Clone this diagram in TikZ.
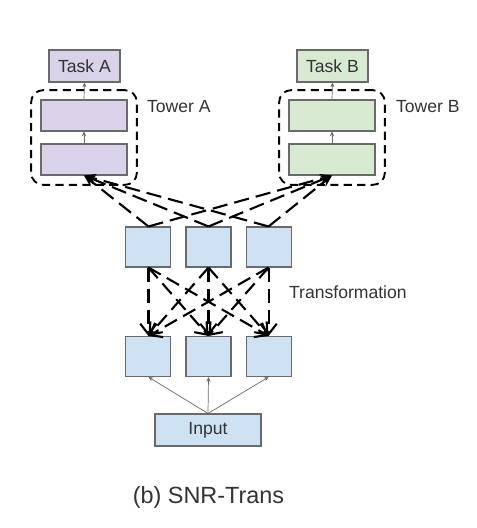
\documentclass[tikz,border=0pt]{standalone}
\usepackage{fontspec}
\setmainfont{Liberation Sans}
\usetikzlibrary{arrows.meta, positioning, fit, calc}
\definecolor{lavfill}{HTML}{D9D2E9}
\definecolor{grnfill}{HTML}{D9EAD3}
\definecolor{bluefill}{HTML}{CFE2F3}
\definecolor{edgegray}{HTML}{6A6A6A}
\definecolor{txtgray}{HTML}{333333}

\begin{document}
\begin{tikzpicture}[>=Stealth,
    % ô chữ nhật cơ bản
    box/.style={draw=edgegray, line width=0.9pt, inner sep=0pt, text=txtgray, font=\fontsize{15}{18}\selectfont},
    taskbox/.style={box, minimum width=2.13cm, minimum height=0.96cm},
    layerbox/.style={box, minimum width=2.58cm, minimum height=0.93cm},
    cell/.style={box, fill=bluefill, minimum width=1.35cm, minimum height=1.2cm},
    tower/.style={draw=black, line width=1.6pt, dash pattern=on 7pt off 4.5pt, rounded corners=0.36cm, inner sep=0.28cm},
    thinarrow/.style={->, >={Stealth[length=4pt, width=3.5pt]}, draw=edgegray, line width=0.6pt},
    share/.style={line width=1.8pt, dash pattern=on 13pt off 6pt, -{Stealth[length=10pt, width=8pt]}},
    trans/.style={line width=1.8pt, dash pattern=on 12pt off 6pt, -{Straight Barb[length=9pt, width=14pt]}},
    lbl/.style={text=txtgray, font=\fontsize{15}{18}\selectfont}]

    \useasboundingbox (0,0) rectangle (14.28,-15.84);

    % Tower A
    \node[taskbox, fill=lavfill] (taskA) at (2.535,-1.98) {Task A};
    \node[layerbox, fill=lavfill] (twA1) at (2.52,-3.465) {};
    \node[layerbox, fill=lavfill] (twA2) at (2.52,-4.785) {};
    \node[tower, fit=(twA1) (twA2)] (fitA) {};
    \node[lbl, anchor=west] (labA) at (4.29,-3.21) {Tower A};

    % Tower B
    \node[taskbox, fill=grnfill] (taskB) at (9.975,-1.98) {Task B};
    \node[layerbox, fill=grnfill] (twB1) at (9.96,-3.465) {};
    \node[layerbox, fill=grnfill] (twB2) at (9.96,-4.785) {};
    \node[tower, fit=(twB1) (twB2)] (fitB) {};
    \node[lbl, anchor=west] (labB) at (11.76,-3.21) {Tower B};

    % Hai hàng sub-network
    \node[cell] (m2) at (6.255,-7.41) {};
    \node[cell, left=0.42cm of m2] (m1) {};
    \node[cell, right=0.42cm of m2] (m3) {};
    \node[cell] (b2) at (6.255,-10.695) {};
    \node[cell, left=0.42cm of b2] (b1) {};
    \node[cell, right=0.42cm of b2] (b3) {};
    \node[lbl, anchor=west] (labT) at (8.55,-8.76) {Transformation};

    \node[box, fill=bluefill, minimum width=3.18cm, minimum height=0.96cm] (inp) at (6.24,-12.9) {Input};

    % Mũi tên mảnh
    \draw[thinarrow] (twA1.north) -- (taskA.south);
    \draw[thinarrow] (twA2.north) -- (twA1.south);
    \draw[thinarrow] (twB1.north) -- (taskB.south);
    \draw[thinarrow] (twB2.north) -- (twB1.south);
    \foreach \c in {b1,b2,b3}
        \draw[thinarrow] (inp.north) -- (\c.south);

    % Chia sẻ lên tower
    \foreach \c in {m1,m2,m3} {
        \draw[share] (\c.north) -- (twA2.south);
        \draw[share] (\c.north) -- (twB2.south);
    }

    % Transformation giữa hai hàng
    \foreach \u in {m1,m2,m3}
        \foreach \d in {b1,b2,b3}
            \draw[trans] (\u.south) -- (\d.north);
    \coordinate (tipL) at ($(b2.north)!0.85!(m1.south)$);
    \coordinate (tipR) at ($(b2.north)!0.85!(m3.south)$);
    \draw[thinarrow, draw=black] (tipL) -- (m1.south);
    \draw[thinarrow, draw=black] (tipR) -- (m3.south);

    % Chú thích
    \node[text=txtgray, font=\fontsize{20}{24}\selectfont] (cap) at (6.255,-14.91) {(b) SNR-Trans};
\end{tikzpicture}
\end{document}
